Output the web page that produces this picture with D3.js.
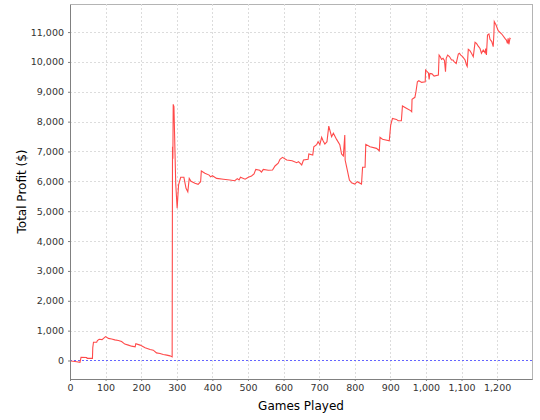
<!DOCTYPE html>
<html>
<head>
<meta charset="utf-8">
<script src="https://cdn.jsdelivr.net/npm/d3@7"></script>
<style>
  body { margin: 0; background: #fff; }
  svg text { font-family: "DejaVu Sans", sans-serif; }
</style>
</head>
<body>
<div id="chart"></div>
<script>
// games played (x) and running profit (y)
var games = [0, 3, 19, 28, 31, 47, 48, 63, 64, 66, 75, 77, 82, 90, 100, 108, 117, 126, 136, 145,
  154, 164, 173, 183, 185, 197, 211, 225, 234, 243, 253, 262, 272, 281, 287,
  288, 289, 290, 292, 297, 301, 305, 311, 320, 326, 331, 335, 340, 351, 360, 367, 369, 379, 391,
  395, 400, 412, 431, 449, 463, 470, 475, 479, 492, 501, 510, 517, 522, 533, 538, 543, 557, 569, 576,
  585, 590, 597, 609, 624, 637, 642, 651, 656, 669, 671, 682, 685, 693, 697, 702, 707, 711, 716, 722,
  727, 735, 740, 749, 758, 763, 768, 772, 773, 777, 785, 791, 800, 807, 819, 822, 829, 831, 843, 861,
  869, 871, 878, 897, 901, 906, 917, 922, 931, 934, 945, 957, 960, 961, 969, 972, 976, 980, 988, 998,
  999, 1004, 1007, 1009, 1011, 1017, 1023, 1035, 1037, 1040, 1044, 1048, 1052, 1055, 1057, 1061, 1066, 1072, 1076, 1079,
  1085, 1091, 1094, 1098, 1103, 1110, 1114, 1116, 1119, 1123, 1128, 1133, 1138, 1142, 1147, 1152, 1156, 1161, 1166, 1168,
  1170, 1173, 1177, 1180, 1185, 1189, 1191, 1192, 1197, 1203, 1213, 1222, 1226, 1229, 1231, 1233, 1236, 1238];
var profit = [0, -20, -40, -60, 105, 100, 70, 70, 430, 610, 610, 665, 710, 700, 800, 740, 720, 690, 670, 635,
  550, 515, 480, 455, 565, 515, 425, 365, 345, 255, 235, 200, 180, 155, 120,
  7160, 6760, 8580, 8500, 5935, 5100, 5880, 6135, 6135, 5765, 5650, 6100, 6000, 5935, 5900, 5990, 6345, 6270, 6210,
  6150, 6190, 6100, 6070, 6045, 6020, 6090, 6045, 6135, 6070, 6135, 6180, 6245, 6400, 6370, 6310, 6400, 6370, 6380, 6515,
  6605, 6740, 6805, 6715, 6690, 6625, 6660, 6550, 6715, 6740, 6915, 6880, 7160, 7230, 7330, 7230, 7475, 7360, 7250, 7330,
  7850, 7495, 7610, 7405, 7230, 6915, 6850, 7550, 6715, 6490, 6045, 5950, 5910, 5990, 5910, 6470, 6470, 7240, 7160, 7105,
  7025, 7475, 7410, 7360, 7885, 8110, 8075, 8030, 8030, 8525, 8450, 8370, 8335, 8750, 8815, 9000, 9335, 9370, 9315, 9335,
  9730, 9670, 9630, 9415, 9615, 9600, 9525, 9560, 10230, 10180, 10085, 10120, 10050, 9670, 10120, 10230, 10180, 10065, 10065, 10010,
  9950, 10265, 10290, 10230, 10175, 10065, 9895, 9850, 10420, 10385, 10290, 10175, 10655, 10620, 10530, 10450, 10290, 10400, 10310, 10450,
  10230, 10900, 10935, 10755, 10680, 10510, 10955, 11350, 11235, 11045, 10935, 10790, 10730, 10620, 10790, 10590, 10790, 10770];

var xTicks = [0, 100, 200, 300, 400, 500, 600, 700, 800, 900, 1000, 1100, 1200];
var yTicks = [0, 1000, 2000, 3000, 4000, 5000, 6000, 7000, 8000, 9000, 10000, 11000];

var margin = { top: 4, right: 8, bottom: 41, left: 70 };
var W = 540, H = 420;
var width = W - margin.left - margin.right;
var height = H - margin.top - margin.bottom;

var data = games.map(function(g, i) { return { g: g, p: profit[i] }; });

var xscale = d3.scaleLinear().domain([0, 1298]).range([0, width]);
var yscale = d3.scaleLinear().domain([-620, 11940]).range([height, 0]);
var fmt = d3.format(",");

var svg = d3.select("#chart").append("svg")
    .attr("width", W)
    .attr("height", H);

var g = svg.append("g")
    .attr("transform", "translate(" + margin.left + "," + margin.top + ")");

// plot background
g.append("rect")
    .attr("width", width)
    .attr("height", height)
    .attr("fill", "#fff")
    .attr("stroke", "#b4b4b4")
    .attr("stroke-width", 1)
    .attr("shape-rendering", "crispEdges");

// dashed grid
g.append("g").selectAll("line.vg")
    .data(xTicks).enter().append("line")
    .attr("x1", function(d) { return Math.round(xscale(d)) + 0.5; })
    .attr("x2", function(d) { return Math.round(xscale(d)) + 0.5; })
    .attr("y1", 0).attr("y2", height)
    .attr("stroke", "#dcdcdc")
    .attr("stroke-dasharray", "2,2");

g.append("g").selectAll("line.hg")
    .data(yTicks).enter().append("line")
    .attr("y1", function(d) { return Math.round(yscale(d)) + 0.5; })
    .attr("y2", function(d) { return Math.round(yscale(d)) + 0.5; })
    .attr("x1", 0).attr("x2", width)
    .attr("stroke", "#dcdcdc")
    .attr("stroke-dasharray", "2,2");

// zero marker
g.append("line")
    .attr("x1", 0).attr("x2", width)
    .attr("y1", Math.round(yscale(0)) + 0.5)
    .attr("y2", Math.round(yscale(0)) + 0.5)
    .attr("stroke", "#6464ff")
    .attr("stroke-dasharray", "2,2");

// profit line
var line = d3.line()
    .x(function(d) { return xscale(d.g); })
    .y(function(d) { return yscale(d.p); });

g.append("path")
    .datum(data)
    .attr("d", line)
    .attr("fill", "none")
    .attr("stroke", "#ff4a4a")
    .attr("stroke-width", 1.1);

// axes
var xaxis = d3.axisBottom(xscale).tickValues(xTicks).tickFormat(fmt).tickSizeInner(2).tickSizeOuter(0).tickPadding(3);
var yaxis = d3.axisLeft(yscale).tickValues(yTicks).tickFormat(fmt).tickSizeInner(2).tickSizeOuter(0).tickPadding(4);

var gx = g.append("g")
    .attr("transform", "translate(0," + height + ")")
    .call(xaxis);
var gy = g.append("g").call(yaxis);

[gx, gy].forEach(function(a) {
  a.select(".domain").attr("stroke", "#808080");
  a.selectAll(".tick line").attr("stroke", "#808080");
  a.selectAll(".tick text")
      .attr("fill", "#333")
      .style("font-size", "9.5px")
      .style("font-family", "'DejaVu Sans', sans-serif");
});

// axis titles
svg.append("text")
    .attr("x", margin.left + width / 2)
    .attr("y", 410)
    .attr("text-anchor", "middle")
    .attr("font-size", "12px")
    .attr("fill", "#000")
    .text("Games Played");

svg.append("text")
    .attr("transform", "rotate(-90)")
    .attr("x", -(margin.top + height / 2))
    .attr("y", 26)
    .attr("text-anchor", "middle")
    .attr("font-size", "12px")
    .attr("fill", "#000")
    .text("Total Profit ($)");
</script>
</body>
</html>
